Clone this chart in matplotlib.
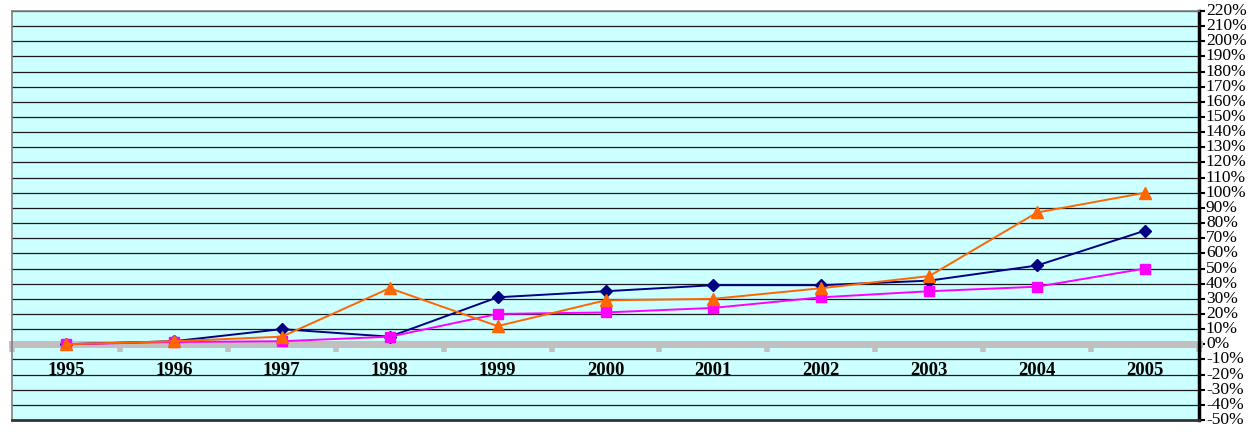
import numpy as np
import matplotlib
matplotlib.use('Agg')
import matplotlib.pyplot as plt
from matplotlib.ticker import FixedLocator, FuncFormatter

years = ['1995', '1996', '1997', '1998', '1999', '2000',
         '2001', '2002', '2003', '2004', '2005']
navy_vals = [0, 2, 10, 5, 31, 35, 39, 39, 42, 52, 75]
pink_vals = [0, 1.5, 2, 5, 20, 21, 24, 31, 35, 38, 50]
orange_vals = [0, 2, 5, 37, 12, 29, 30, 37, 45, 87, 100]

plt.rcParams['font.family'] = ['Liberation Serif', 'DejaVu Serif']

fig = plt.figure(figsize=(12.51, 4.33), dpi=100)
fig.set_facecolor('white')
ax = fig.add_axes([12 / 1251, 13 / 433, 1187 / 1251, 409 / 433])
ax.set_facecolor('#CCFFFF')

x = np.arange(len(years))

# horizontal grid every 10%
for v in range(-40, 221, 10):
    if v == 0:
        continue
    ax.axhline(v, color='#1a1a1a', lw=0.9, zorder=1)

ax.plot(x, navy_vals, color='#000080', lw=1.4, marker='D', ms=6.5, zorder=3)
ax.plot(x, pink_vals, color='#FF00FF', lw=1.4, marker='s', ms=7.5, zorder=3.5)
ax.plot(x, orange_vals, color='#FF6600', lw=1.4, marker='^', ms=8.5, zorder=4)

ax.set_xlim(-0.5, len(years) - 0.5)
ax.set_ylim(-50, 220)

# category axis sits on the 0% line
ax.spines['bottom'].set_position(('data', 0))
ax.spines['bottom'].set_color('#C0C0C0')
ax.spines['bottom'].set_linewidth(5)
ax.spines['bottom'].set_zorder(2)
ax.xaxis.set_major_locator(FixedLocator(x))
ax.set_xticklabels(years, fontsize=13.5, fontweight='bold')
ax.xaxis.set_minor_locator(FixedLocator(np.arange(-0.5, len(years), 1.0)))
ax.tick_params(axis='x', which='major', length=0, pad=13)
ax.tick_params(axis='x', which='minor', length=6, width=4, color='#C0C0C0',
               direction='out')

# frame
ax.spines['left'].set_color('#808080')
ax.spines['left'].set_linewidth(1.2)
ax.spines['top'].set_color('#808080')
ax.spines['top'].set_linewidth(1.2)
ax.spines['right'].set_color('black')
ax.spines['right'].set_linewidth(2.5)
ax.axhline(-50, color='#333333', lw=2, clip_on=False, zorder=5)

# percent axis on the right
ax.yaxis.tick_right()
ax.set_yticks(np.arange(-50, 221, 10))
ax.yaxis.set_major_formatter(FuncFormatter(lambda v, p: f'{int(v)}%'))
ax.tick_params(axis='y', which='major', length=4, width=1.5, color='black',
               direction='out', labelsize=12.5, pad=1)
for lbl in ax.get_yticklabels():
    lbl.set_verticalalignment('center')

fig.savefig('out.png', dpi=100)
